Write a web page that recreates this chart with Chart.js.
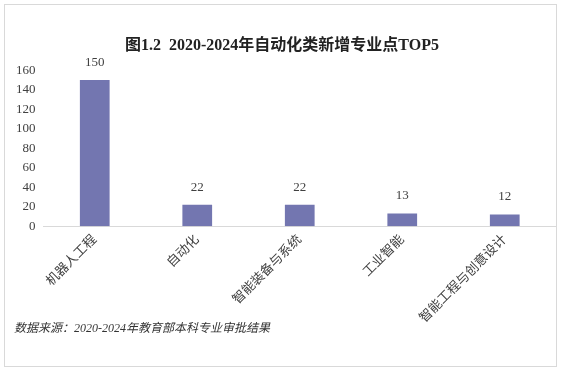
<!DOCTYPE html>
<html>
<head>
<meta charset="utf-8">
<script src="https://cdn.jsdelivr.net/npm/chart.js@4"></script>
<style>
    body { margin: 0; background: #fff; }
    #wrap { position: relative; width: 561px; height: 370px; }
    #frame { position: absolute; left: 4px; top: 4px; width: 551px; height: 361px; border: 1px solid #d9d9d9; }
    #bar_chart { position: absolute; left: 0; top: 0; }
</style>
</head>
<body>
<div id="wrap">
    <div id="frame"></div>
    <canvas id="bar_chart" width="561" height="370"></canvas>
</div>
<script>
var majors = ["机器人工程", "自动化", "智能装备与系统", "工业智能", "智能工程与创意设计"];
var counts = [150, 22, 22, 13, 12];
var yTicks = [0, 20, 40, 60, 80, 100, 120, 140, 160];
var titleText = "图1.2  2020-2024年自动化类新增专业点TOP5";
var sourceText = "数据来源：2020-2024年教育部本科专业审批结果";

var serif = "'Liberation Serif', 'Noto Sans CJK SC', serif";

// value labels above bars + source note
var extras = {
    id: 'extras',
    afterDatasetsDraw: function (chart) {
        var ctx = chart.ctx;
        var meta = chart.getDatasetMeta(0);
        ctx.save();
        ctx.font = "13px " + serif;
        ctx.fillStyle = "#404040";
        ctx.textAlign = "center";
        ctx.textBaseline = "bottom";
        meta.data.forEach(function (bar, i) {
            ctx.fillText(counts[i], bar.x, bar.y - 11);
        });
        ctx.font = "italic 12px " + serif;
        ctx.textAlign = "left";
        ctx.textBaseline = "middle";
        ctx.fillStyle = "#333";
        ctx.fillText(sourceText, 14, 329);
        ctx.restore();
    }
};

new Chart(document.getElementById("bar_chart").getContext("2d"), {
    type: 'bar',
    data: {
        labels: majors,
        datasets: [{
            data: counts,
            backgroundColor: '#7376b0',
            barPercentage: 0.29,
            categoryPercentage: 1
        }]
    },
    options: {
        responsive: false,
        animation: false,
        layout: { padding: { left: 8, right: 5, top: 28, bottom: 38 } },
        plugins: {
            legend: { display: false },
            tooltip: { enabled: false },
            title: {
                display: true,
                text: titleText,
                color: '#222',
                font: { family: serif, size: 16, weight: 'bold' },
                padding: { top: 8, bottom: 15 }
            }
        },
        scales: {
            x: {
                grid: { display: false, drawTicks: false },
                border: { color: '#d9d9d9' },
                ticks: {
                    color: '#404040',
                    font: { family: serif, size: 13 },
                    minRotation: 45,
                    maxRotation: 45,
                    autoSkip: false,
                    padding: 6
                }
            },
            y: {
                min: 0,
                max: 160,
                grid: { display: false, drawTicks: false },
                border: { display: false },
                afterBuildTicks: function (axis) {
                    axis.ticks = yTicks.map(function (v) { return { value: v }; });
                },
                ticks: {
                    color: '#404040',
                    font: { family: serif, size: 13 },
                    autoSkip: false,
                    padding: 8
                }
            }
        }
    },
    plugins: [extras]
});
</script>
</body>
</html>
